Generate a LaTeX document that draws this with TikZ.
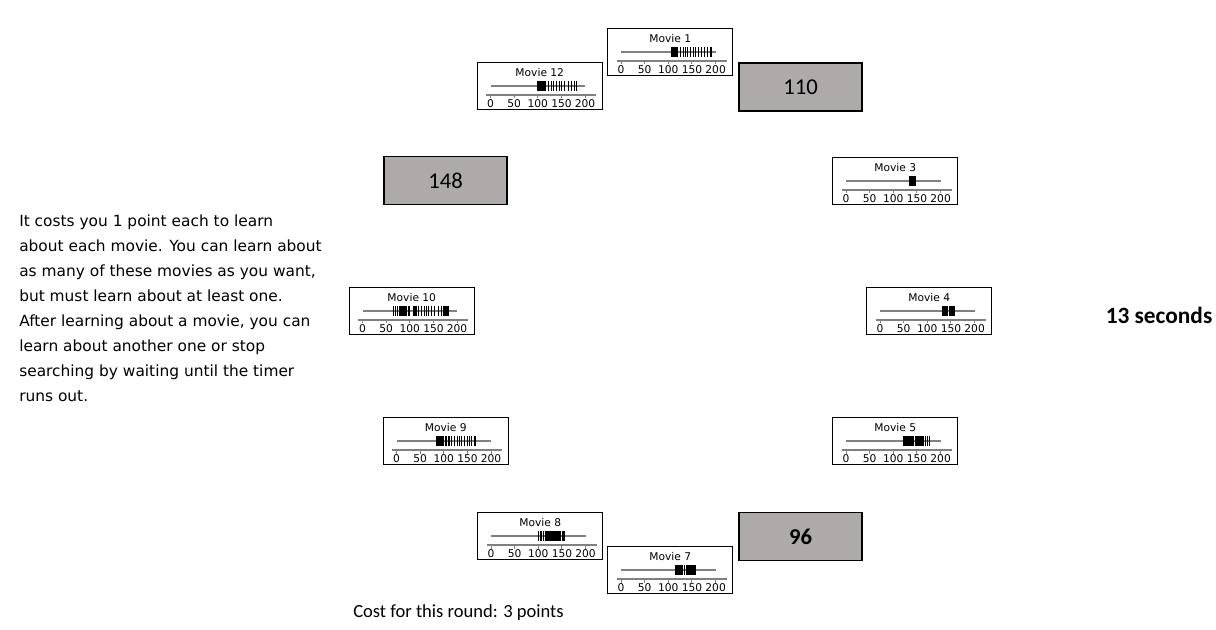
\documentclass[tikz,border=0pt]{standalone}
\usepackage{fontspec}
\usepackage{tikz}
\usetikzlibrary{positioning}
\newfontfamily\cardfont{DejaVu Sans}
\newfontfamily\calfont{Carlito}
\definecolor{axisgray}{RGB}{128,128,128}
\definecolor{boxgray}{RGB}{174,170,170}

\tikzset{
  card/.style={draw=black,line width=0.75pt,minimum width=93.4pt,minimum height=35.6pt,inner sep=0pt},
  cardtitle/.style={font=\cardfont\fontsize{8}{9}\selectfont,inner sep=0pt},
  ticklabel/.style={font=\cardfont\fontsize{8}{9}\selectfont,inner sep=0pt},
  rangeline/.style={draw=axisgray,line width=1.1pt},
  bar/.style={draw=black,line width=0.55pt},
  valuebox/.style={draw=black,line width=1.4pt,fill=boxgray,minimum width=92pt,minimum height=36pt,inner sep=0pt,font=\calfont\fontsize{17}{20}\selectfont},
}

% name, top-left corner, title, rating marks
\newcommand{\moviecard}[4]{%
  \begin{scope}[shift={#2}]
    \node[card] (#1) at (62.25,23.75) {};
    \node[cardtitle] (#1-title) at (62.25,10) {#3};
    \draw[rangeline] (13,23.5) -- (107.6,23.5);
    \draw[rangeline] (8.5,32.5) -- (118.5,32.5);
    \foreach \tk in {0,50,...,200} {
      \draw[rangeline,line width=0.75pt] ({13+0.473*\tk},32.5) -- ++(0,3.5);
      \node[ticklabel] (#1-t\tk) at ({13+0.473*\tk},41.5) {\tk};
    }
    \foreach \rv in {#4}
      \draw[bar] ({13+0.473*\rv},18.5) -- ++(0,10);
  \end{scope}}

\begin{document}
\begin{tikzpicture}[x=0.75pt,y=-0.75pt]
\useasboundingbox (0,0) rectangle (1216,630);
% Movie cards
\moviecard{m1}{(608,28.5)}{Movie 1}{106,107,108,109,110,111,112,113,114,115,116,118,120,125,131,137,141,146,152,158,163,169,176,183,189,192}
\moviecard{m12}{(477.5,62.5)}{Movie 12}{99,100,101,102,103,104,105,106,107,108,110,112,114,116,122,128,133,140,145,150,157,164,172,177,182}
\moviecard{m3}{(833,157.5)}{Movie 3}{133,135,137,139,141,143,145,147}
\moviecard{m10}{(349.5,287.5)}{Movie 10}{65,70,74,77,80,82,84,86,88,90,93,97,100,107,109,111,114,119,124,131,135,140,146,152,160,166,171,173,175,177,179,181}
\moviecard{m4}{(867,287.5)}{Movie 4}{131,133,135,137,139,141,143,146,148,150,152,154,156,158}
\moviecard{m9}{(383.5,417.5)}{Movie 9}{84,86,88,90,92,94,96,98,100,103,106,109,112,117,123,128,133,138,144,150,154,159,164,167}
\moviecard{m5}{(833,417.5)}{Movie 5}{121,123,125,127,129,131,133,137,139,141,143,146,148,150,152,155,157,159,161,163,167,171,176}
\moviecard{m8}{(478,512.5)}{Movie 8}{100,104,107,111,115,117,119,121,123,125,127,130,132,134,136,138,141,143,145,147,150,152,155}
\moviecard{m7}{(608,546.5)}{Movie 7}{114,116,118,120,122,124,126,128,130,133,139,141,143,145,147,149,151,154,156,158}
% Revealed values
\node[valuebox] (v110) at (800.5,87) {110};
\node[valuebox] (v148) at (445.5,180.5) {148};
\node[valuebox,font=\calfont\bfseries\fontsize{17}{20}\selectfont] (v96) at (800.5,536.5) {96};
% Instructions
\node[anchor=north west,align=left,inner sep=0pt,font=\cardfont\fontsize{11.55}{18.75}\selectfont] (instr) at (19,215) {It costs you 1 point each to learn\\about each movie. You can learn about\\as many of these movies as you want,\\but must learn about at least one.\\After learning about a movie, you can\\learn about another one or stop\\searching by waiting until the timer\\runs out.};
% Timer and cost
\node[font=\calfont\bfseries\fontsize{17.5}{20}\selectfont] (timer) at (1159,315) {13 seconds};
\node[anchor=west,inner sep=0pt,font=\calfont\fontsize{13.9}{16}\selectfont] (cost) at (353,613) {Cost for this round: 3 points};
\end{tikzpicture}
\end{document}
